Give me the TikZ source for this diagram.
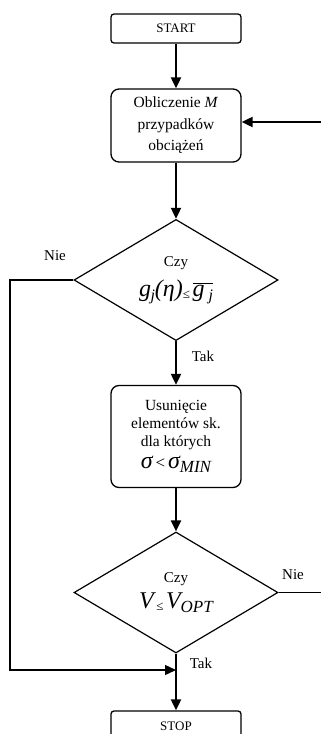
\documentclass[tikz,border=0pt]{standalone}
\usepackage{fontspec}
\setmainfont{Liberation Serif}
\usetikzlibrary{shapes.geometric,arrows.meta}
\newcommand{\bigf}{\fontsize{24}{26}\selectfont\itshape}
\newcommand{\smallle}{\raisebox{-2pt}{\fontsize{13}{13}\selectfont\upshape ≤}}
\begin{document}
\begin{tikzpicture}[x=1pt,y=-1pt,
  term/.style={draw, rounded corners=3pt, line width=1.3pt, minimum width=130pt, minimum height=29pt, inner sep=0pt, font=\fontsize{13}{15}\selectfont},
  procbox/.style={draw, rounded corners=8pt, line width=1.3pt, minimum width=130pt, inner sep=0pt, align=center, font=\fontsize{15.5}{21.5}\selectfont},
  decision/.style={draw, diamond, minimum width=204pt, minimum height=120pt, inner sep=0pt, line width=1.2pt, align=center, font=\fontsize{15}{18}\selectfont},
  arr/.style={line width=2pt, -{Triangle[length=11pt,width=10pt]}},
  plain/.style={line width=1.4pt},
  lbl/.style={font=\fontsize{15}{18}\selectfont, inner sep=0pt}
]
\useasboundingbox (0,0) rectangle (321,734);
\node[term] (start) at (176,28.5) {START};
\node[procbox, minimum height=73pt] (calc) at (176,125.5) {Obliczenie \textit{M}\\przypadków\\obciążeń};
\node[decision] (d1) at (176,280) {Czy\\[9pt]{\bigf g\kern-0.5pt\raisebox{-4pt}{\fontsize{16}{16}\selectfont j}(η)}\smallle\,$\overline{\hbox{\bigf g\,\raisebox{-4pt}{\fontsize{16}{16}\selectfont j}}}$};
\node[procbox, minimum height=102pt, font=\fontsize{15.5}{18}\selectfont] (rem) at (176,436.5) {Usunięcie\\elementów sk.\\dla których\\[4pt]{\bigf σ}{\fontsize{17}{17}\selectfont\,<\,}{\bigf σ\raisebox{-4pt}{\fontsize{17}{17}\selectfont MIN}}};
\node[decision, minimum height=121pt] (d2) at (176,592.5) {Czy\\[6pt]{\bigf V}\,\smallle\,{\bigf V\raisebox{-4pt}{\fontsize{17}{17}\selectfont OPT}}};
\node[term, minimum height=30pt] (stop) at (176,726) {STOP};
\coordinate (L1) at (10,280);
\coordinate (J) at (176,670);
\coordinate (R1) at (321,122);
\coordinate (R2) at (321,592.5);
\draw[arr] (start) -- (calc);
\draw[arr] (calc) -- (d1);
\draw[arr] (d1) -- (rem);
\draw[arr] (rem) -- (d2);
\draw[arr] (d2) -- (stop);
\draw[arr] (R1) -- (R1 -| calc.east);
\draw[plain] (d2.east) -- (R2);
\draw[plain, -{Triangle[length=11pt,width=10pt]}] (d1.west) -- (L1) |- (J);
\node[lbl] (nie1) at (55,256) {Nie};
\node[lbl] (tak1) at (203,356) {Tak};
\node[lbl] (nie2) at (293,575) {Nie};
\node[lbl] (tak2) at (201,663) {Tak};
\end{tikzpicture}
\end{document}
